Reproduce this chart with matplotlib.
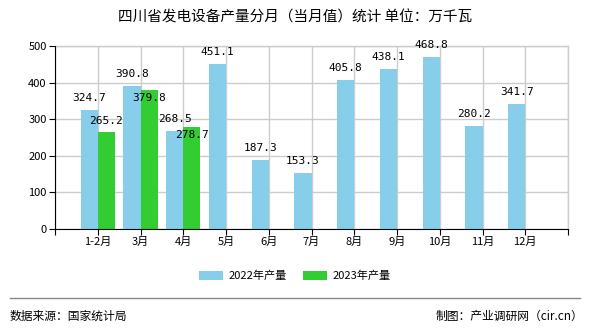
import matplotlib.pyplot as plt
import numpy as np

plt.rcParams['font.family'] = ['Noto Sans CJK SC', 'DejaVu Sans']

months = ['1-2月', '3月', '4月', '5月', '6月', '7月', '8月', '9月', '10月', '11月', '12月']
y2022 = [324.7, 390.8, 268.5, 451.1, 187.3, 153.3, 405.8, 438.1, 468.8, 280.2, 341.7]
y2023 = [265.2, 379.8, 278.7]

blue = '#87CEEB'
green = '#33CC33'

fig = plt.figure(figsize=(5.9, 3.3), dpi=100)
ax = fig.add_axes([55 / 590, 1 - 229 / 330, 513 / 590, 183 / 330])

x = np.arange(1, len(months) + 1)
w = 0.4
b1 = ax.bar(x[:len(y2022)] - w / 2, y2022, w, color=blue, label='2022年产量', zorder=2)
b2 = ax.bar(x[:len(y2023)] + w / 2, y2023, w, color=green, label='2023年产量', zorder=2)

# label offsets in pixels (the reference pushes two green labels inside their bars)
off1 = [12] * len(y2022)
off2 = [11, -8, -8]
for rects, vals, offs in ((b1, y2022, off1), (b2, y2023, off2)):
    for r, v, o in zip(rects, vals, offs):
        ax.annotate(f'{v:.1f}', (r.get_x() + r.get_width() / 2, v),
                    xytext=(0, o), textcoords='offset pixels', ha='center', va='center',
                    fontsize=8, family='DejaVu Sans Mono', zorder=3)

ax.set_xlim(0, 12)
ax.set_ylim(0, 500)
ax.set_yticks(range(0, 501, 100))
ax.set_xticks(range(0, 13))
ax.set_xticklabels([''] + months + [''])
ax.tick_params(axis='both', labelsize=8, length=4, color='black', pad=2)
ax.grid(True, color='#CCCCCC', linewidth=1, zorder=0)
for s in ('top', 'right'):
    ax.spines[s].set_visible(False)
ax.spines['left'].set_zorder(4)
ax.spines['bottom'].set_zorder(4)
ax.axhline(500, color='#CCCCCC', lw=1, zorder=0, clip_on=False)
ax.axvline(12, color='#CCCCCC', lw=1, zorder=0, clip_on=False)

fig.text(0.5, 1 - 17 / 330, '四川省发电设备产量分月（当月值）统计 单位：万千瓦',
         ha='center', va='center', fontsize=10.5)

fig.legend(handles=[b1, b2], loc='center', bbox_to_anchor=(0.5, 1 - 276 / 330),
           ncol=2, frameon=False, fontsize=8, handlelength=2.2, handleheight=0.9,
           columnspacing=1.4, handletextpad=0.5)

fig.add_artist(plt.Line2D([10 / 590, 580 / 590], [1 - 298 / 330] * 2,
                          color='#888888', lw=1))
fig.text(10 / 590, 1 - 316 / 330, '数据来源：国家统计局', ha='left', va='center', fontsize=8.5)
fig.text(583 / 590, 1 - 316 / 330, '制图：产业调研网（cir.cn）', ha='right', va='center', fontsize=8.5)

fig.savefig('out.png', dpi=100)
